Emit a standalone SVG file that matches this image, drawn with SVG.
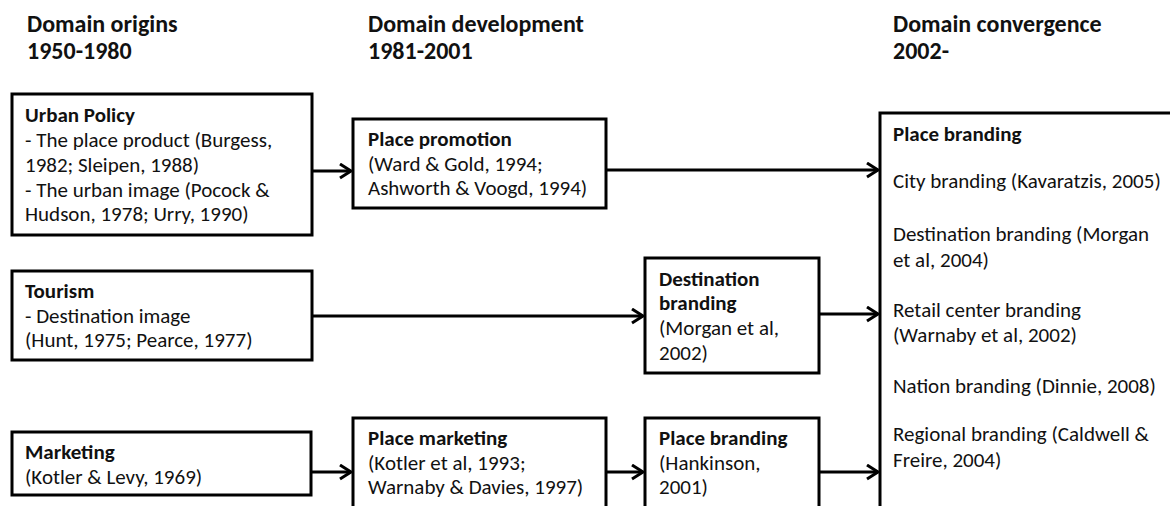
<svg xmlns="http://www.w3.org/2000/svg" width="1170" height="506" viewBox="0 0 1170 506">
<style>
text{font-family:Carlito,Lato,"Liberation Sans",sans-serif;fill:#111;}
.h{font-size:24px;font-weight:bold;}
.b{font-size:21px;font-weight:bold;}
.t{font-size:21px;}
.box{fill:#fff;stroke:#000;stroke-width:3;}
.con{fill:none;stroke:#000;stroke-width:3;}
</style>
<defs>
<marker id="arr" markerUnits="userSpaceOnUse" markerWidth="16" markerHeight="18" refX="12" refY="8" orient="auto">
<path d="M1,1 L12,8 L1,15" fill="none" stroke="#000" stroke-width="3"/>
</marker>
</defs>
<g id="headings">
<text class="h" x="27" y="32">Domain origins</text>
<text class="h" x="27" y="59">1950-1980</text>
<text class="h" x="368" y="32">Domain development</text>
<text class="h" x="368" y="59">1981-2001</text>
<text class="h" x="893" y="32">Domain convergence</text>
<text class="h" x="893" y="59">2002-</text>
</g>
<g id="connectors">
<line class="con" x1="312" y1="171" x2="351" y2="171" marker-end="url(#arr)"/>
<line class="con" x1="606" y1="170" x2="878" y2="170" marker-end="url(#arr)"/>
<line class="con" x1="312" y1="316" x2="643" y2="316" marker-end="url(#arr)"/>
<line class="con" x1="819" y1="314" x2="878" y2="314" marker-end="url(#arr)"/>
<line class="con" x1="311" y1="472" x2="351" y2="472" marker-end="url(#arr)"/>
<line class="con" x1="606" y1="472" x2="643" y2="472" marker-end="url(#arr)"/>
<line class="con" x1="819" y1="472" x2="878" y2="472" marker-end="url(#arr)"/>
</g>
<g id="urban-policy">
<rect class="box" x="12" y="94" width="300" height="141"/>
<text class="b" x="25" y="122">Urban Policy</text>
<text class="t" x="25" y="147">- The place product (Burgess,</text>
<text class="t" x="25" y="172">1982; Sleipen, 1988)</text>
<text class="t" x="25" y="197">- The urban image (Pocock &amp;</text>
<text class="t" x="25" y="221">Hudson, 1978; Urry, 1990)</text>
</g>
<g id="tourism">
<rect class="box" x="12" y="271" width="300" height="89"/>
<text class="b" x="25" y="298">Tourism</text>
<text class="t" x="25" y="323">- Destination image</text>
<text class="t" x="25" y="347">(Hunt, 1975; Pearce, 1977)</text>
</g>
<g id="marketing">
<rect class="box" x="12" y="432" width="299" height="63"/>
<text class="b" x="25" y="459">Marketing</text>
<text class="t" x="25" y="484">(Kotler &amp; Levy, 1969)</text>
</g>
<g id="place-promotion">
<rect class="box" x="353" y="119" width="253" height="89"/>
<text class="b" x="368" y="146">Place promotion</text>
<text class="t" x="368" y="171">(Ward &amp; Gold, 1994;</text>
<text class="t" x="368" y="195">Ashworth &amp; Voogd, 1994)</text>
</g>
<g id="destination-branding">
<rect class="box" x="645" y="258" width="174" height="115"/>
<text class="b" x="659" y="286">Destination</text>
<text class="b" x="659" y="310">branding</text>
<text class="t" x="659" y="335">(Morgan et al,</text>
<text class="t" x="659" y="360">2002)</text>
</g>
<g id="place-marketing">
<rect class="box" x="353" y="418" width="253" height="100"/>
<text class="b" x="368" y="445">Place marketing</text>
<text class="t" x="368" y="470">(Kotler et al, 1993;</text>
<text class="t" x="368" y="494">Warnaby &amp; Davies, 1997)</text>
</g>
<g id="place-branding-2001">
<rect class="box" x="645" y="418" width="174" height="100"/>
<text class="b" x="659" y="445">Place branding</text>
<text class="t" x="659" y="470">(Hankinson,</text>
<text class="t" x="659" y="494">2001)</text>
</g>
<g id="place-branding">
<rect class="box" x="880" y="113" width="310" height="420"/>
<text class="b" x="893" y="141">Place branding</text>
<text class="t" x="893" y="188">City branding (Kavaratzis, 2005)</text>
<text class="t" x="893" y="241">Destination branding (Morgan</text>
<text class="t" x="893" y="267">et al, 2004)</text>
<text class="t" x="893" y="317">Retail center branding</text>
<text class="t" x="893" y="342">(Warnaby et al, 2002)</text>
<text class="t" x="893" y="393">Nation branding (Dinnie, 2008)</text>
<text class="t" x="893" y="441">Regional branding (Caldwell &amp;</text>
<text class="t" x="893" y="467">Freire, 2004)</text>
</g>
</svg>
